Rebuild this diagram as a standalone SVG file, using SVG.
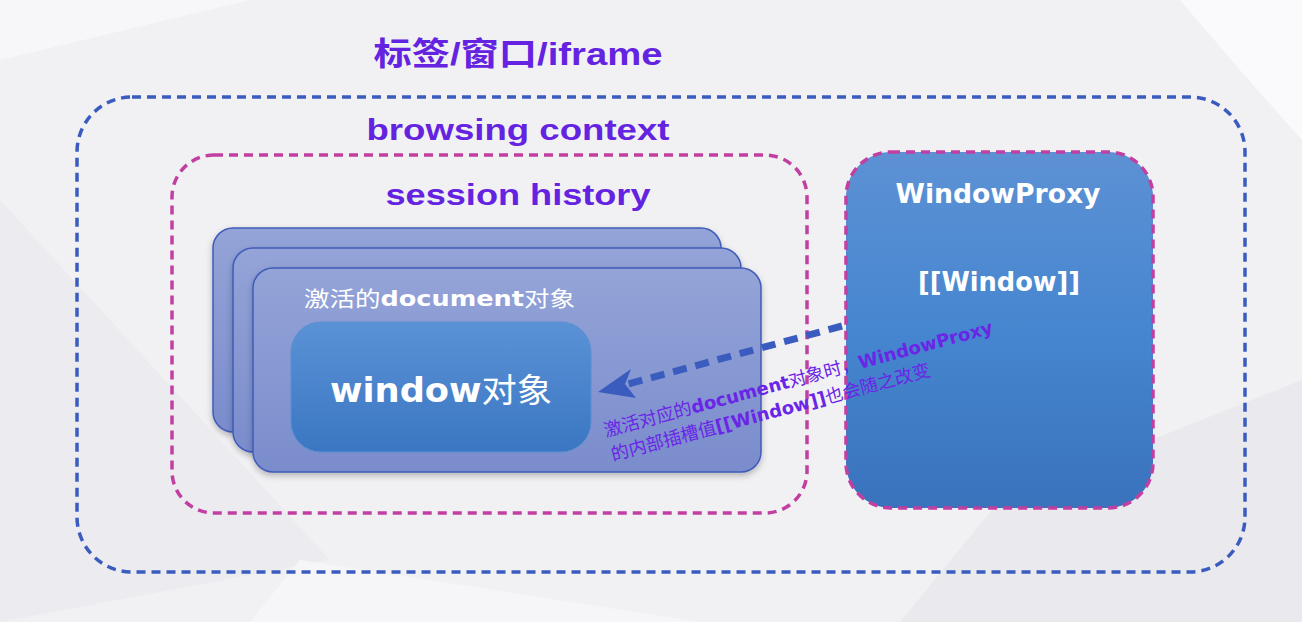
<svg xmlns="http://www.w3.org/2000/svg" width="1302" height="622" viewBox="0 0 1302 622">
<style>
.title{font-family:"Liberation Sans","Noto Sans CJK SC",sans-serif;font-weight:bold;fill:#6423E0;}
.white{fill:#fff;font-family:"DejaVu Sans","Noto Sans CJK SC",sans-serif;font-weight:bold;}
.cjk{font-family:"Noto Sans CJK SC",sans-serif;font-weight:normal;}
.card{fill:url(#cardG);stroke:#3f5cb8;stroke-width:1.5;filter:url(#sh);}
.note{font-family:"Noto Sans CJK SC",sans-serif;font-size:18px;fill:#6a25e6;}
.note .b{font-family:"DejaVu Sans",sans-serif;font-weight:bold;}
</style>
<defs>
<linearGradient id="cardG" x1="0" y1="0" x2="0" y2="1"><stop offset="0" stop-color="#94a4d8"/><stop offset="1" stop-color="#7a8ccc"/></linearGradient>
<linearGradient id="winG" x1="0" y1="0" x2="0" y2="1"><stop offset="0" stop-color="#5b92d6"/><stop offset="1" stop-color="#3a76c2"/></linearGradient>
<linearGradient id="proxG" x1="0" y1="0" x2="0" y2="1"><stop offset="0" stop-color="#5d91d4"/><stop offset="0.5" stop-color="#4686d0"/><stop offset="1" stop-color="#3a72bc"/></linearGradient>
<filter id="sh" x="-10%" y="-10%" width="120%" height="130%"><feDropShadow dx="0" dy="3" stdDeviation="3" flood-color="#000" flood-opacity="0.25"/></filter>
</defs>
<rect width="1302" height="622" fill="#f1f1f4"/>
<polygon points="0,60 250,0 0,0" fill="#f7f7f9"/>
<polygon points="0,200 330,560 0,622" fill="#ececf0"/>
<polygon points="1180,0 1302,0 1302,140 1240,70" fill="#fafafc"/>
<polygon points="1000,500 1302,380 1302,622 900,622" fill="#e9e9ee"/>
<polygon points="300,560 700,622 250,622" fill="#f6f6f8"/>

<g id="frame-outer">
<rect x="77" y="97" width="1168" height="475" rx="55" fill="none" stroke="#3b5cbf" stroke-width="3.5" stroke-dasharray="9 6"/>
<text class="title" x="518" y="65" font-size="32" text-anchor="middle" textLength="289" lengthAdjust="spacingAndGlyphs">标签/窗口/iframe</text>
</g>
<g id="browsing-context">
<rect x="172" y="155" width="635" height="358" rx="42" fill="none" stroke="#c23fa2" stroke-width="3.5" stroke-dasharray="9 6"/>
<text class="title" x="518" y="140" font-size="30" text-anchor="middle" textLength="303" lengthAdjust="spacingAndGlyphs">browsing context</text>
</g>
<g id="session-history">
<text class="title" x="518" y="205" font-size="30" text-anchor="middle" textLength="265" lengthAdjust="spacingAndGlyphs">session history</text>
</g>
<g id="documents">
<rect class="card" x="213" y="228" width="508" height="204" rx="20"/>
<rect class="card" x="233" y="248" width="508" height="204" rx="20"/>
<rect class="card" x="253" y="268" width="508" height="204" rx="20"/>
<text class="white" x="304" y="306" font-size="21" textLength="271" lengthAdjust="spacingAndGlyphs"><tspan class="cjk">激活的</tspan>document<tspan class="cjk">对象</tspan></text>
</g>
<g id="window-object">
<rect x="291" y="322" width="300" height="130" rx="30" fill="url(#winG)" stroke="#5a8fd0" stroke-width="1"/>
<text class="white" x="441" y="402" font-size="33" text-anchor="middle" textLength="222" lengthAdjust="spacingAndGlyphs">window<tspan class="cjk" font-weight="bold">对象</tspan></text>
</g>
<g id="windowproxy">
<rect x="846" y="152" width="307" height="356" rx="45" fill="url(#proxG)" stroke="#c23fa2" stroke-width="3.5" stroke-dasharray="9 6"/>
<text class="white" x="998" y="203" font-size="26" text-anchor="middle" textLength="205" lengthAdjust="spacingAndGlyphs">WindowProxy</text>
<text class="white" x="999" y="291" font-size="26" text-anchor="middle" textLength="162" lengthAdjust="spacingAndGlyphs">[[Window]]</text>
</g>
<g id="connectors">
<line x1="842" y1="326" x2="628" y2="384" stroke="#3a5cbf" stroke-width="7" stroke-dasharray="14 9"/>
<polygon points="598,392 631,369 625,384 636,398" fill="#3a5cbf"/>
</g>
<g id="note">
<text class="note" transform="rotate(-15 606 437)" x="606" y="437">激活对应的<tspan class="b">document</tspan>对象时，<tspan class="b">WindowProxy</tspan></text>
<text class="note" transform="rotate(-15 613 461)" x="613" y="461">的内部插槽值<tspan class="b">[[Window]]</tspan>也会随之改变</text>
</g>
</svg>
